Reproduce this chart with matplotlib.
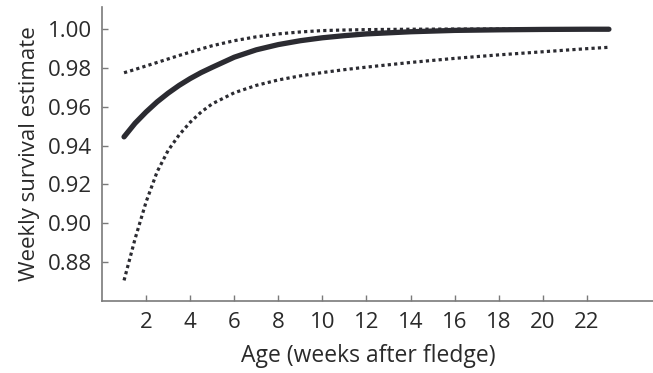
import matplotlib
matplotlib.use("Agg")
import matplotlib.pyplot as plt

# weeks after fledge
weeks = [1, 1.5, 2, 2.5, 3, 3.5, 4, 4.5, 5, 6, 7, 8, 9, 10, 11, 12, 14, 16, 18, 20, 22, 23]
estimate = [0.9445, 0.9515, 0.9573, 0.9625, 0.9670, 0.9710, 0.9745, 0.9776, 0.9803,
            0.9855, 0.9893, 0.9920, 0.9940, 0.9955, 0.9966, 0.9975, 0.9986, 0.9993,
            0.9996, 0.9998, 0.9999, 0.9999]
upper = [0.9775, 0.9792, 0.9810, 0.9828, 0.9846, 0.9864, 0.9881, 0.9898, 0.9914,
         0.9940, 0.9960, 0.9975, 0.9985, 0.9992, 0.9995, 0.9997, 0.9999, 1.0,
         1.0, 1.0, 1.0, 1.0]
lower = [0.8706, 0.8920, 0.9110, 0.9265, 0.9375, 0.9455, 0.9520, 0.9573, 0.9615,
         0.9672, 0.9710, 0.9738, 0.9759, 0.9776, 0.9791, 0.9804, 0.9828, 0.9849,
         0.9867, 0.9883, 0.9899, 0.9906]

xticks = list(range(2, 23, 2))
yticks = [0.88, 0.90, 0.92, 0.94, 0.96, 0.98, 1.00]

plt.rcParams["font.family"] = ["Open Sans", "DejaVu Sans"]

fig = plt.figure(figsize=(6.53, 3.73), dpi=100)
ax = fig.add_axes([0.1562, 0.193, 0.8438, 0.788])

line_col = "#2b2b31"
ax.plot(weeks, estimate, color=line_col, lw=3.8, solid_capstyle="round")
ax.plot(weeks, upper, color=line_col, lw=2.3, linestyle=(0, (1, 1)))
ax.plot(weeks, lower, color=line_col, lw=2.3, linestyle=(0, (1, 1)))

ax.set_xlim(0, 25)
ax.set_ylim(0.86, 1.0113)
ax.set_xticks(xticks)
ax.set_yticks(yticks)
ax.set_yticklabels([f"{v:.2f}" for v in yticks])

for side in ("top", "right"):
    ax.spines[side].set_visible(False)
for side in ("left", "bottom"):
    ax.spines[side].set_color("#7a7a7a")
    ax.spines[side].set_linewidth(1.2)

ax.tick_params(direction="in", length=4, width=1.0, color="#7a7a7a",
               labelsize=16, labelcolor="#2a2a2a")
ax.tick_params(axis="y", pad=7)
ax.tick_params(axis="x", pad=8)

ax.set_ylabel("Weekly survival estimate", fontsize=16, color="#2a2a2a", labelpad=6)
ax.set_xlabel("Age (weeks after fledge)", fontsize=16.5, color="#2a2a2a", labelpad=9)
# label sits a little left of the axes centre in the original
ax.xaxis.set_label_coords(0.483, -0.145)

fig.savefig("out.png", dpi=100)
